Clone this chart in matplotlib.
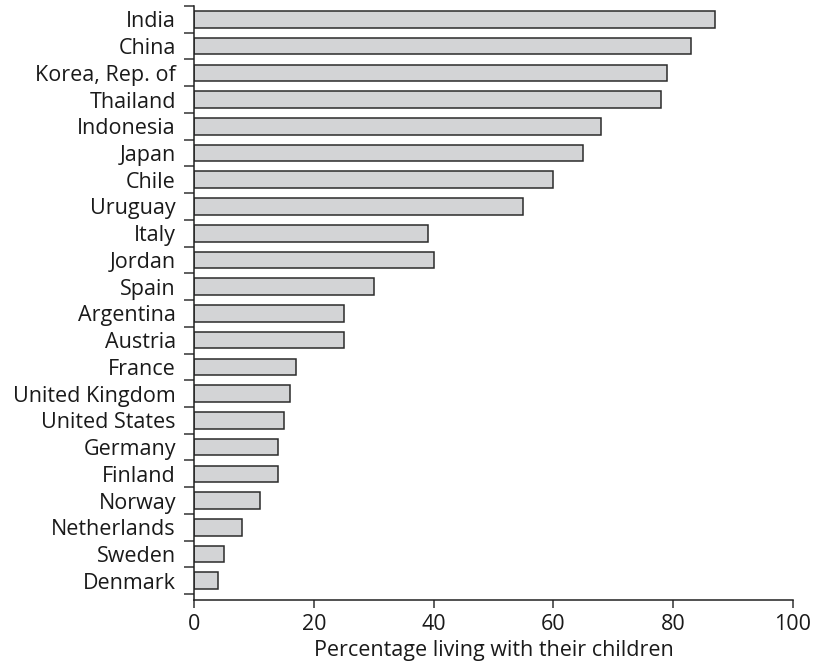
import numpy as np
import matplotlib.pyplot as plt

# data (top to bottom)
countries = ["India", "China", "Korea, Rep. of", "Thailand", "Indonesia", "Japan",
             "Chile", "Uruguay", "Italy", "Jordan", "Spain", "Argentina", "Austria",
             "France", "United Kingdom", "United States", "Germany", "Finland",
             "Norway", "Netherlands", "Sweden", "Denmark"]
values = [87, 83, 79, 78, 68, 65, 60, 55, 39, 40, 30, 25, 25,
          17, 16, 15, 14, 14, 11, 8, 5, 4]
xticks = [0, 20, 40, 60, 80, 100]

plt.rcParams["font.family"] = ["Open Sans", "DejaVu Sans"]

n = len(countries)
ypos = np.arange(n)[::-1]

fig = plt.figure(figsize=(8.16, 6.65), dpi=100)
ax = fig.add_axes([0.2377, 0.0977, 0.9718 - 0.2377, 0.991 - 0.0977])

ax.barh(ypos, values, height=0.62, color="#d3d4d6", edgecolor="#2b2b2b", linewidth=1.1)

ax.set_xlim(0, 100)
ax.set_ylim(-0.72, n - 0.5)

for s in ["top", "right"]:
    ax.spines[s].set_visible(False)
for s in ["left", "bottom"]:
    ax.spines[s].set_color("#222222")
    ax.spines[s].set_linewidth(1.1)

# boundary ticks on y, labels at bar centres
ax.set_yticks(np.arange(n + 1) - 0.5)
ax.set_yticklabels([])
ax.set_yticks(ypos, minor=True)
ax.set_yticklabels(countries, minor=True, fontsize=15.5, color="#1a1a1a")
ax.tick_params(axis="y", which="major", length=7, width=1.1, color="#333333", direction="out")
ax.tick_params(axis="y", which="minor", length=0, pad=13)

ax.set_xticks(xticks)
ax.set_xticklabels([str(v) for v in xticks], fontsize=15.5, color="#1a1a1a")
ax.tick_params(axis="x", length=6, width=1.1, color="#333333", pad=4)

ax.set_xlabel("Percentage living with their children", fontsize=15.5, color="#1a1a1a", labelpad=4)

fig.savefig("out.png", dpi=100)
